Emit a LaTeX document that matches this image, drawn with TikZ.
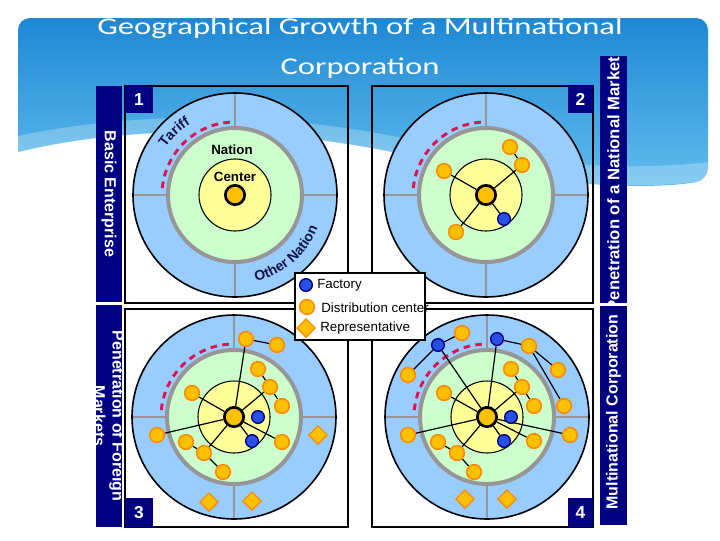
\documentclass[tikz,border=0pt]{standalone}
\usepackage{graphicx}
\usepackage{fontspec}
\setmainfont{Liberation Sans}
\newfontfamily\titlefont{Carlito}
\usetikzlibrary{shapes.geometric,decorations.text}
\pgfdeclarelayer{back}
\pgfdeclarelayer{conn}
\pgfsetlayers{back,conn,main}
\definecolor{navyband}{RGB}{0,0,128}
\definecolor{annulus}{RGB}{153,204,255}
\definecolor{greenz}{RGB}{204,255,204}
\definecolor{yellowz}{RGB}{255,255,153}
\definecolor{ringgray}{RGB}{150,150,150}
\definecolor{gold}{RGB}{255,192,0}
\definecolor{orangeedge}{RGB}{255,140,0}
\definecolor{factblue}{RGB}{40,80,230}
\definecolor{tariffred}{RGB}{220,20,80}
\definecolor{hdrtop}{RGB}{30,136,212}
\definecolor{hdrbot}{RGB}{100,190,238}
\definecolor{arctext}{RGB}{20,20,70}
\tikzset{
 dist/.style={circle, fill=gold, draw=orangeedge, line width=1.2pt, minimum size=11pt, inner sep=0pt},
 fact/.style={circle, fill=factblue, draw=navyband, line width=1pt, minimum size=9.5pt, inner sep=0pt},
 rep/.style={diamond, fill=gold, draw=orangeedge, line width=1pt, minimum size=14pt, inner sep=0pt},
 hub/.style={circle, fill=gold, draw=black, line width=2pt, minimum size=14.5pt, inner sep=0pt},
 link/.style={draw=black, line width=0.9pt},
 bandtext/.style={text=white, font=\fontsize{12}{14}\selectfont\bfseries, inner sep=0pt},
 numbox/.style={fill=navyband, text=white, font=\fontsize{13}{14}\selectfont\bfseries, inner sep=0pt},
 qframe/.style={draw=black, line width=1.6pt},
 zonetext/.style={font=\fontsize{10}{12}\selectfont\bfseries, text=black, inner sep=0pt},
 legtext/.style={font=\fontsize{10}{12}\selectfont, anchor=west, inner sep=0pt},
 titletext/.style={text=white, inner sep=0pt, anchor=base},
}
\begin{document}
\begin{tikzpicture}[x=0.75pt,y=-0.75pt]
\useasboundingbox (0,0) rectangle (720,540);
\begin{pgfonlayer}{back}
\fill[white] (0,0) rectangle (720,540);
\shade[top color=hdrtop, bottom color=hdrbot] [rounded corners=9] (18,152) -- (18,18) -- (708,18) -- (708,180) [sharp corners] .. controls (640,192) and (520,182) .. (420,158) .. controls (300,130) and (150,120) .. (18,152) -- cycle;
\fill[white, opacity=0.25] (18,152) .. controls (150,120) and (300,130) .. (420,158) .. controls (520,182) and (640,192) .. (708,180) -- (708,162) .. controls (630,172) and (520,164) .. (420,142) .. controls (300,114) and (150,108) .. (18,136) -- cycle;
\foreach \cx/\cy in {235/195,486/195,234/417,487/417} {
  \fill[annulus] (\cx,\cy) circle[radius=102];
  \foreach \a in {0,90,180,270} \draw[ringgray, line width=2.2pt] (\cx,\cy) ++(\a:67) -- ++(\a:35);
  \draw[black, line width=1.2pt] (\cx,\cy) circle[radius=102];
  \filldraw[fill=greenz, draw=ringgray, line width=3pt] (\cx,\cy) circle[radius=67];
  \filldraw[fill=yellowz, draw=black, line width=0.8pt] (\cx,\cy) circle[radius=36];
  \draw[tariffred, line width=2.2pt, dash pattern=on 5pt off 4pt] (\cx,\cy) ++(-94:73) arc[start angle=-94, end angle=-176, radius=73];
}
\end{pgfonlayer}

% title
\node[titletext] (title1) at (360,34) {\titlefont\fontsize{18}{20}\selectfont\scalebox{1.36}[1]{Geographical Growth of a Multinational}};
\node[titletext] (title2) at (360,74) {\titlefont\fontsize{18}{20}\selectfont\scalebox{1.36}[1]{Corporation}};

% frames
\draw[qframe] (125,86) rectangle (348,303);
\draw[qframe] (372,86) rectangle (593,303);
\draw[qframe] (125,309) rectangle (348,527);
\draw[qframe] (372,309) rectangle (593,527);

% side bands
\fill[navyband] (96,86) rectangle (122,302);
\fill[navyband] (96,305) rectangle (122,527);
\fill[navyband] (600,56) rectangle (627,303);
\fill[navyband] (600,306) rectangle (627,525);
\node[bandtext, rotate=-90] (lab1) at (109,194) {Basic Enterprise};
\begin{scope}
\clip (96,305) rectangle (122,527);
\node[bandtext, rotate=-90, align=center] (lab3) at (109,416) {Penetration of Foreign\\Markets};
\end{scope}
\begin{scope}
\clip (600,56) rectangle (627,303);
\node[bandtext, rotate=90, font=\fontsize{12.5}{14}\selectfont\bfseries] (lab2) at (613.5,184) {Penetration of a National Market};
\end{scope}
\node[bandtext, rotate=90] (lab4) at (613.5,412) {Multinational Corporation};

% number boxes
\node[numbox, minimum width=21pt, minimum height=20pt] (n1) at (139,99.5) {1};
\node[numbox, minimum width=18.75pt, minimum height=20pt] (n2) at (580.5,99.5) {2};
\node[numbox, minimum width=21pt, minimum height=21.75pt] (n3) at (139,512.5) {3};
\node[numbox, minimum width=18.75pt, minimum height=21.75pt] (n4) at (580.5,512.5) {4};

% quadrant 1
\node[hub] (c1) at (235,195) {};
\node[zonetext] (nat1) at (232,150) {Nation};
\node[zonetext] (cen1) at (235,177) {Center};
\path[decorate, decoration={text along path, text align=center, text={|\fontsize{10.5}{12}\selectfont\bfseries\color{arctext}|Tariff}}] (235,195) ++(-160:84) arc[start angle=-160, end angle=-108, radius=84];
\path[decorate, decoration={text along path, text align=center, text={|\fontsize{10.5}{12}\selectfont\bfseries\color{arctext}|Other Nation}}] (235,195) ++(90:89) arc[start angle=90, end angle=8, radius=89];

% quadrant 2
\node[hub] (c2) at (486,195) {};
\node[dist] (q2a) at (510,147) {};
\node[dist] (q2b) at (522,165) {};
\node[dist] (q2c) at (444,171) {};
\node[fact] (q2d) at (504,219) {};
\node[dist] (q2e) at (456,232) {};

% quadrant 3
\node[hub] (c3) at (234,417) {};
\node[dist] (q3a) at (246,339) {};
\node[dist] (q3b) at (277,345) {};
\node[dist] (q3c) at (258,369) {};
\node[dist] (q3d) at (270,387) {};
\node[dist] (q3e) at (282,406) {};
\node[dist] (q3f) at (192,393) {};
\node[fact] (q3g) at (258,417) {};
\node[fact] (q3h) at (252,441) {};
\node[dist] (q3i) at (282,442) {};
\node[dist] (q3j) at (157,435) {};
\node[dist] (q3k) at (186,442) {};
\node[dist] (q3l) at (204,453) {};
\node[dist] (q3m) at (223,472) {};
\node[rep] (q3r1) at (318,435) {};
\node[rep] (q3r2) at (209,502) {};
\node[rep] (q3r3) at (252,501) {};

% quadrant 4
\node[hub] (c4) at (487,417) {};
\node[dist] (q4p) at (462,333) {};
\node[fact] (q4q) at (438,345) {};
\node[dist] (q4r) at (408,375) {};
\node[fact] (q4s) at (497,339) {};
\node[dist] (q4t) at (529,346) {};
\node[dist] (q4u) at (558,370) {};
\node[dist] (q4v) at (564,406) {};
\node[dist] (q4c) at (511,369) {};
\node[dist] (q4d) at (522,387) {};
\node[dist] (q4e) at (534,406) {};
\node[dist] (q4f) at (444,393) {};
\node[fact] (q4g) at (511,417) {};
\node[fact] (q4h) at (504,441) {};
\node[dist] (q4i) at (534,441) {};
\node[dist] (q4w) at (570,435) {};
\node[dist] (q4j) at (408,435) {};
\node[dist] (q4k) at (438,442) {};
\node[dist] (q4l) at (457,453) {};
\node[dist] (q4m) at (474,472) {};
\node[rep] (q4r1) at (465,499) {};
\node[rep] (q4r2) at (507,499) {};

\begin{pgfonlayer}{conn}
\draw[link] (c2)--(q2c) (c2)--(q2b) (q2b)--(q2a) (c2)--(q2d) (c2)--(q2e);
\draw[link] (c3)--(q3a) (q3a)--(q3b) (c3)--(q3d) (q3d)--(q3c) (q3d)--(q3e) (c3)--(q3f) (c3)--(q3h) (c3)--(q3i) (c3)--(q3j) (c3)--(q3l) (q3l)--(q3k) (q3l)--(q3m);
\draw[link] (c4)--(q4q) (q4q)--(q4p) (q4q)--(q4r) (c4)--(q4s) (q4s)--(q4t) (q4t)--(q4u) (q4t)--(q4v) (c4)--(q4d) (q4d)--(q4c) (q4d)--(q4e) (c4)--(q4f) (c4)--(q4h) (c4)--(q4i) (c4)--(q4w) (c4)--(q4j) (c4)--(q4l) (q4l)--(q4k) (q4l)--(q4m);
\end{pgfonlayer}

% legend
\filldraw[fill=white, draw=black, line width=0.8pt] (295,273) rectangle (425,340);
\node[fact] (lf) at (306,285) {};
\node[legtext] (lft) at (317,285) {Factory};
\node[dist] (ld) at (307,307) {};
\node[legtext] (ldt) at (321,308) {Distribution center};
\node[rep] (lr) at (306,328) {};
\node[legtext] (lrt) at (320,328) {Representative};
\end{tikzpicture}
\end{document}
